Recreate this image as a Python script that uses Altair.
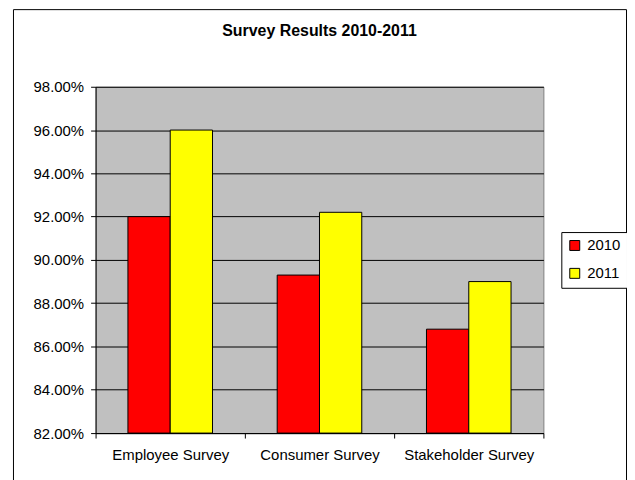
import altair as alt
import pandas as pd

surveys = ["Employee Survey", "Consumer Survey", "Stakeholder Survey"]
years = ["2010", "2011"]
values_2010 = [0.920, 0.893, 0.868]
values_2011 = [0.960, 0.922, 0.890]
y_ticks = [0.82, 0.84, 0.86, 0.88, 0.90, 0.92, 0.94, 0.96, 0.98]
colors = ["#FF0000", "#FFFF00"]

rows = []
for s, a, b in zip(surveys, values_2010, values_2011):
    rows.append({"Survey": s, "Year": "2010", "Value": a})
    rows.append({"Survey": s, "Year": "2011", "Value": b})
df = pd.DataFrame(rows)

FONT = "Liberation Sans"

bars = alt.Chart(df).mark_bar(stroke="black", strokeWidth=1, opacity=1).encode(
    x=alt.X("Survey:N", sort=surveys,
            scale=alt.Scale(paddingInner=0, paddingOuter=0),
            axis=alt.Axis(title=None, labelAngle=0, tickBand="extent", ticks=True,
                          tickSize=5, tickColor="black", domainColor="black",
                          labelFontSize=15, labelFont=FONT, labelColor="black",
                          labelPadding=10, grid=False)),
    xOffset=alt.XOffset("Year:N", scale=alt.Scale(paddingInner=0, paddingOuter=0.765)),
    y=alt.Y("Value:Q", stack=None,
            scale=alt.Scale(domain=[0.82, 0.98], zero=False, nice=False),
            axis=alt.Axis(title=None, format=".2%", values=y_ticks, grid=True,
                          gridColor="black", gridOpacity=1, gridWidth=1,
                          tickSize=5, tickColor="black", domainColor="black",
                          labelFontSize=15, labelFont=FONT, labelColor="black",
                          labelPadding=7, labelFlush=False)),
    color=alt.Color("Year:N", scale=alt.Scale(domain=years, range=colors),
                    legend=alt.Legend(title=None, orient="none", legendX=468, legendY=146,
                                      strokeColor="black", fillColor="white", padding=6,
                                      symbolType="square", symbolSize=100,
                                      symbolStrokeColor="black", symbolStrokeWidth=1,
                                      labelFontSize=15, labelFont=FONT, labelColor="black",
                                      rowPadding=12, labelOffset=5)),
)

frame = alt.Chart(pd.DataFrame({"k": [0]})).mark_rect(
    fill="white", fillOpacity=0, stroke="black", strokeWidth=1
).encode(
    x=alt.value(-82.5), x2=alt.value(533.5), y=alt.value(-77.5), y2=alt.value(420)
)

chart = alt.layer(frame, bars).properties(
    width=450,
    height=348,
    title=alt.TitleParams("Survey Results 2010-2011", fontSize=16, font=FONT,
                          fontWeight="bold", anchor="middle", color="black",
                          baseline="alphabetic", offset=-43),
    autosize=alt.AutoSizeParams(type="none"),
    padding={"left": 88, "top": 78, "right": 84, "bottom": 46},
).configure(
    background="white",
    view=alt.ViewConfig(fill="#C0C0C0", stroke="#808080", strokeWidth=1),
)

chart.save("out.html", embed_options={"renderer": "svg", "actions": False})
